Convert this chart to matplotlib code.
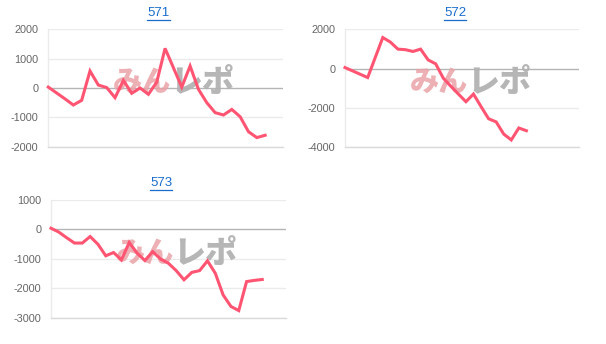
import matplotlib
matplotlib.use("Agg")
import matplotlib.pyplot as plt
from matplotlib.lines import Line2D

titles = ["571", "572", "573"]

values_571 = [30, -170, -370, -580, -420, 580, 100, 15, -330, 260, -180, 0, -215, 200,
              1350, 690, 30, 750, -45, -500, -840, -920, -730, -980, -1490, -1690, -1610]
values_572 = [50, -120, -290, -460, 560, 1580, 1350, 990, 960, 870, 990, 440, 240, -490,
              -900, -1300, -1690, -1300, -1940, -2560, -2720, -3340, -3640, -3030, -3170]
values_573 = [30, -100, -290, -470, -470, -250, -510, -900, -790, -1040, -450, -810, -1060,
              -760, -1010, -1150, -1400, -1710, -1460, -1400, -1070, -1490, -2220, -2610,
              -2750, -1770, -1730, -1700]

series = [values_571, values_572, values_573]
xmax = [28.1, 31.0, 30.0]
yticks = [[-2000, -1000, 0, 1000, 2000],
          [-4000, -2000, 0, 2000],
          [-3000, -2000, -1000, 0, 1000]]

plt.rcParams['font.family'] = ['Liberation Sans', 'DejaVu Sans']

W, H = 606, 344
fig = plt.figure(figsize=(W / 100, H / 100), dpi=100)
fig.patch.set_facecolor("white")

rects = [
    [48.3 / W, 1 - 146.7 / H, 234.4 / W, 117.4 / H],
    [345.0 / W, 1 - 147.0 / H, 234.3 / W, 117.7 / H],
    [51.0 / W, 1 - 318.0 / H, 234.7 / W, 118.5 / H],
]

line_color = "#ff5573"
grid_color = "#ebebeb"

for i, (vals, rect) in enumerate(zip(series, rects)):
    ax = fig.add_axes(rect)
    ax.set_xlim(0, xmax[i])
    ax.set_ylim(yticks[i][0], yticks[i][-1])
    ax.set_yticks(yticks[i])
    ax.set_yticklabels([str(t) for t in yticks[i]])
    ax.set_xticks([])
    for s in ["top", "right"]:
        ax.spines[s].set_visible(False)
    ax.spines["left"].set_color(grid_color)
    ax.spines["left"].set_linewidth(1.0)
    ax.spines["bottom"].set_color("#dadada")
    ax.spines["bottom"].set_linewidth(1.0)
    ax.tick_params(axis="y", length=0, pad=7, labelsize=7.8, labelcolor="#666666")
    for t in yticks[i]:
        if t == 0:
            ax.axhline(t, color="#b5b5b5", lw=1.0, zorder=1)
        else:
            ax.axhline(t, color=grid_color, lw=1.0, zorder=0)
    # watermark
    ax.text(0.525, 0.55, "みん", transform=ax.transAxes, ha="right", va="center",
            fontsize=21, fontweight="black", color="#e9a3a8", alpha=0.85,
            family=["Noto Sans CJK JP"], zorder=2)
    ax.text(0.52, 0.55, "レポ", transform=ax.transAxes, ha="left", va="center",
            fontsize=23, fontweight="black", color="#b2b2b2", alpha=0.95,
            family=["Noto Sans CJK JP"], zorder=2)
    ax.plot(range(len(vals)), vals, color=line_color, lw=2.2, zorder=3,
            solid_joinstyle="miter", clip_on=False)
    ax.set_facecolor("none")

    # title, underlined
    cx = rect[0] + rect[2] * 0.47
    ty = rect[1] + rect[3] + 0.047
    fig.text(cx, ty, titles[i], ha="center", va="center", fontsize=9.5,
             color="#1a6dcc")

fig.canvas.draw()
renderer = fig.canvas.get_renderer()
for txt in list(fig.texts):
    bb = txt.get_window_extent(renderer).transformed(fig.transFigure.inverted())
    y = bb.y0 - 0.5 / H
    fig.add_artist(Line2D([bb.x0, bb.x1], [y, y], transform=fig.transFigure,
                          color="#1a6dcc", lw=0.9))

fig.savefig("out.png", dpi=100, facecolor="white")
